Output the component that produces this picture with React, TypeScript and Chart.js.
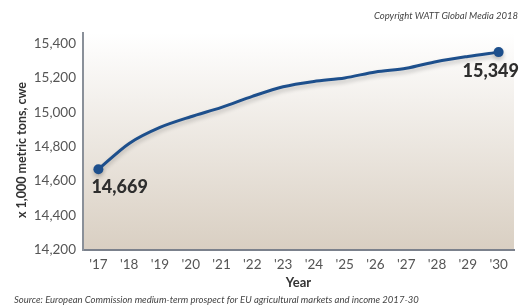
import React, { useEffect, useRef } from "react";
import { Chart, registerables } from "chart.js";

Chart.register(...registerables);

const years = ["'17", "'18", "'19", "'20", "'21", "'22", "'23", "'24", "'25", "'26", "'27", "'28", "'29", "'30"];
const production = [14669, 14819, 14912, 14974, 15028, 15092, 15148, 15179, 15199, 15234, 15255, 15295, 15324, 15349];
const yTicks = [14200, 14400, 14600, 14800, 15000, 15200, 15400];
const yTitle = "x 1,000 metric tons, cwe";
const xTitle = "Year";
const copyright = "Copyright WATT Global Media 2018";
const source = "Source: European Commission medium-term prospect for EU agricultural markets and income 2017-30";

const FONT = "Lato, 'Open Sans', sans-serif";

export default function App() {
  const ref = useRef<HTMLCanvasElement | null>(null);

  useEffect(() => {
    document.body.style.margin = "0";
    const canvas = ref.current;
    if (!canvas) return;

    const bgPlugin = {
      id: "bg",
      beforeDraw(chart: any) {
        const { ctx, chartArea } = chart;
        const g = ctx.createLinearGradient(0, chartArea.top, 0, chartArea.bottom);
        g.addColorStop(0, "#ffffff");
        g.addColorStop(1, "#d9cfc2");
        ctx.save();
        ctx.fillStyle = g;
        ctx.fillRect(chartArea.left, chartArea.top, chartArea.right - chartArea.left, chartArea.bottom - chartArea.top);
        ctx.restore();
      },
      beforeDatasetsDraw(chart: any) {
        const ctx = chart.ctx;
        ctx.save();
        ctx.shadowColor = "rgba(0,0,0,0.22)";
        ctx.shadowBlur = 4;
        ctx.shadowOffsetY = 3;
      },
      afterDatasetsDraw(chart: any) {
        chart.ctx.restore();
      },
      afterDraw(chart: any) {
        const { ctx, chartArea } = chart;
        const meta = chart.getDatasetMeta(0);
        ctx.save();
        // y title
        ctx.fillStyle = "#333";
        ctx.font = `bold 12.5px ${FONT}`;
        ctx.textAlign = "center";
        ctx.textBaseline = "middle";
        ctx.save();
        ctx.translate(22, 150);
        ctx.rotate(-Math.PI / 2);
        ctx.fillText(yTitle, 0, 0);
        ctx.restore();
        // x title
        ctx.font = `bold 13px ${FONT}`;
        ctx.fillText(xTitle, (chartArea.left + chartArea.right) / 2, 283);
        // copyright
        ctx.font = `italic 9.5px ${FONT}`;
        ctx.fillStyle = "#444";
        ctx.textAlign = "right";
        ctx.fillText(copyright, 518, 16);
        // source
        ctx.textAlign = "left";
        ctx.fillText(source, 14, 300);
        // data labels
        const first = meta.data[0];
        const last = meta.data[meta.data.length - 1];
        ctx.fillStyle = "#2e2e2e";
        ctx.font = `900 18px ${FONT}`;
        ctx.textAlign = "left";
        ctx.fillText(production[0].toLocaleString("en-US"), first.x - 7, first.y + 18);
        ctx.textAlign = "right";
        ctx.fillText(production[production.length - 1].toLocaleString("en-US"), 519, last.y + 19);
        ctx.restore();
      },
    };

    const chart = new Chart(canvas, {
      type: "line",
      data: {
        labels: years,
        datasets: [
          {
            data: production,
            borderColor: "#1d4f8c",
            backgroundColor: "#1d4f8c",
            borderWidth: 3,
            tension: 0.3,
            pointRadius: production.map((_, i) => (i === 0 || i === production.length - 1 ? 5 : 0)),
            pointBorderWidth: 0,
          },
        ],
      },
      options: {
        animation: false,
        responsive: false,
        devicePixelRatio: 1,
        layout: { padding: { left: 0, right: 0, top: 33, bottom: 0 } },
        plugins: { legend: { display: false }, tooltip: { enabled: false } },
        scales: {
          x: {
            offset: true,
            grid: { display: false, drawTicks: false },
            border: { display: true, color: "#7b818c", width: 2 },
            ticks: { color: "#555", font: { family: FONT, size: 13.5 }, padding: 7, maxRotation: 0, autoSkip: false },
            afterFit(scale: any) {
              scale.height = 56;
            },
          },
          y: {
            min: 14200,
            max: 15460,
            grid: { display: false, drawTicks: false },
            border: { display: true, color: "#8a9099", width: 2 },
            ticks: {
              color: "#555",
              font: { family: FONT, size: 13.5 },
              padding: 7,
              callback: (v: any) => Number(v).toLocaleString("en-US"),
            },
            afterBuildTicks(scale: any) {
              scale.ticks = yTicks.map((v) => ({ value: v }));
            },
            afterFit(scale: any) {
              scale.width = 83;
            },
          },
        },
      },
      plugins: [bgPlugin],
    });

    return () => chart.destroy();
  }, []);

  return (
    <div style={{ width: 519, height: 306, background: "#fff" }}>
      <canvas ref={ref} width={519} height={306} style={{ display: "block" }} />
    </div>
  );
}
